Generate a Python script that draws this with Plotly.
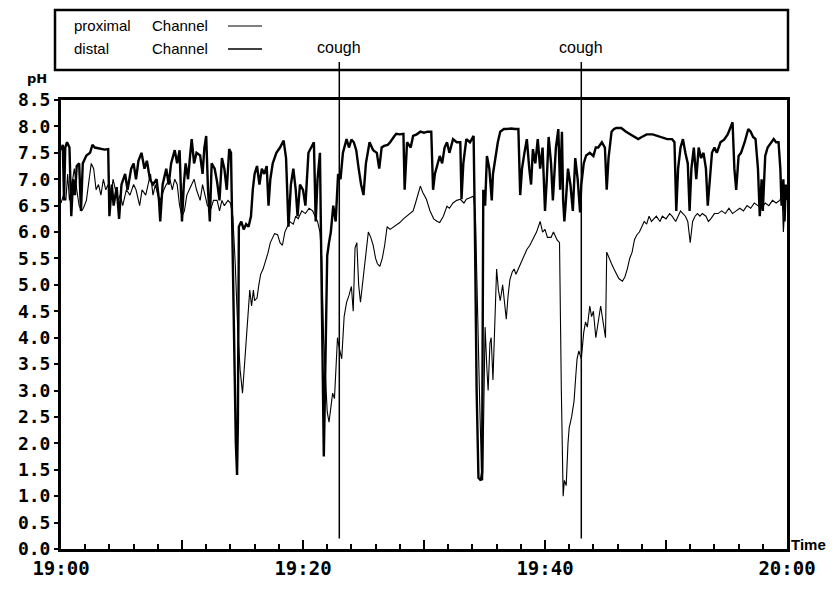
import pandas as pd
import plotly.graph_objects as go

# --- pH recording, 19:00-20:00: minutes after 19:00 and pH readings ---
distal_min = [
    0.0, 0.15, 0.25, 0.35, 0.5, 0.7, 0.85, 1.0, 1.15, 1.3, 1.5, 1.65, 1.8, 2.1, 2.4, 2.6, 2.8, 3.2, 3.6, 3.9,
    4.0, 4.2, 4.35, 4.6, 4.8, 5.0, 5.3, 5.5, 5.8, 6.0, 6.2, 6.4, 6.65, 6.9, 7.1, 7.35, 7.6, 7.9, 8.1, 8.2,
    8.4, 8.7, 8.9, 9.1, 9.4, 9.6, 9.8, 10.0, 10.15, 10.3, 10.5, 10.65, 10.8, 11.0, 11.2, 11.5, 11.7, 11.85, 12.0, 12.15,
    12.3, 12.45, 12.7, 12.9, 13.1, 13.3, 13.5, 13.7, 13.9, 14.05, 14.15, 14.3, 14.45, 14.55, 14.62, 14.7, 14.9, 15.1, 15.3, 15.5,
    15.7, 15.85, 16.0, 16.2, 16.4, 16.6, 16.8, 17.0, 17.15, 17.3, 17.5, 17.8, 18.1, 18.4, 18.6, 18.8, 19.0, 19.2, 19.4, 19.55,
    19.75, 20.0, 20.2, 20.45, 20.7, 20.9, 21.05, 21.2, 21.4, 21.5, 21.62, 21.72, 21.8, 21.9, 22.0, 22.15, 22.3, 22.5, 22.7, 22.9,
    23.1, 23.3, 23.6, 23.8, 24.0, 24.2, 24.4, 24.6, 24.8, 25.0, 25.2, 25.5, 25.8, 26.1, 26.3, 26.5, 26.7, 27.0, 27.2, 27.5,
    27.7, 28.0, 28.3, 28.4, 28.5, 28.6, 28.9, 29.1, 29.4, 29.7, 30.0, 30.3, 30.6, 30.75, 30.9, 31.1, 31.3, 31.5, 31.7, 31.9,
    32.1, 32.4, 32.7, 33.0, 33.1, 33.25, 33.5, 33.8, 34.1, 34.2, 34.35, 34.5, 34.7, 34.8, 34.9, 35.05, 35.2, 35.4, 35.6, 35.7,
    35.9, 36.1, 36.3, 36.6, 36.8, 37.2, 37.5, 37.8, 37.95, 38.1, 38.3, 38.5, 38.7, 38.85, 39.0, 39.2, 39.4, 39.6, 39.8, 40.0,
    40.15, 40.3, 40.5, 40.65, 40.9, 41.1, 41.25, 41.4, 41.5, 41.6, 41.7, 41.9, 42.1, 42.3, 42.5, 42.7, 42.9, 43.0, 43.2, 43.4,
    43.7, 44.0, 44.2, 44.4, 44.7, 44.95, 45.1, 45.25, 45.5, 45.7, 45.9, 46.3, 46.7, 47.1, 47.4, 47.7, 48.0, 48.4, 48.9, 49.3,
    49.7, 50.1, 50.5, 50.7, 50.85, 51.0, 51.2, 51.4, 51.6, 51.8, 51.95, 52.1, 52.3, 52.5, 52.7, 52.9, 53.1, 53.3, 53.45, 53.6,
    53.8, 54.0, 54.2, 54.5, 54.8, 55.1, 55.3, 55.5, 55.65, 55.8, 56.0, 56.2, 56.5, 56.8, 57.0, 57.2, 57.4, 57.6, 57.75, 57.9,
    58.0, 58.2, 58.4, 58.7, 58.9, 59.1, 59.3, 59.45, 59.55, 59.7, 59.8, 59.9, 60.0,
]
distal_ph = [
    7.55, 7.65, 6.6, 7.6, 7.7, 7.6, 6.3, 7.0, 6.7, 7.25, 7.3, 6.4, 7.3, 7.45, 7.5, 7.65, 7.6, 7.58, 7.56, 7.57,
    6.3, 6.9, 6.5, 6.85, 6.25, 6.9, 7.1, 6.8, 7.2, 7.3, 7.0, 7.35, 7.5, 7.2, 7.35, 7.0, 6.9, 7.0, 6.6, 6.2,
    6.9, 7.2, 6.9, 7.3, 7.55, 7.3, 7.55, 6.2, 6.9, 7.3, 7.0, 7.4, 7.76, 7.3, 7.5, 7.45, 7.1, 7.6, 7.82, 6.8,
    6.2, 7.3, 7.2, 6.95, 6.6, 7.4, 7.2, 6.8, 7.57, 7.5, 6.0, 4.0, 2.0, 1.4, 2.4, 6.1, 6.2, 6.05, 6.15, 6.1,
    6.3, 6.8, 7.1, 7.25, 6.9, 7.2, 7.1, 7.25, 6.5, 7.0, 7.3, 7.5, 7.6, 7.73, 7.4, 6.1, 6.9, 7.2, 6.8, 6.3,
    6.9, 6.8, 6.5, 7.5, 7.6, 7.7, 6.2, 7.0, 7.5, 5.9, 3.5, 1.75, 2.8, 4.6, 5.55, 5.8, 6.0, 6.5, 6.2, 7.1,
    7.0, 7.5, 7.76, 7.6, 7.75, 7.7, 7.55, 7.2, 6.9, 6.7, 7.3, 7.7, 7.55, 7.5, 7.2, 7.6, 7.63, 7.65, 7.7, 7.8,
    7.86, 7.85, 7.86, 6.8, 7.3, 7.7, 7.6, 7.82, 7.85, 7.9, 7.88, 7.9, 7.9, 6.8, 7.1, 7.3, 7.44, 7.3, 7.6, 7.7,
    7.5, 7.76, 7.7, 7.7, 6.62, 7.3, 7.76, 7.7, 7.82, 6.2, 3.0, 1.35, 1.3, 1.45, 6.8, 6.5, 7.44, 7.2, 6.6, 7.1,
    7.4, 7.7, 7.9, 7.95, 7.95, 7.96, 7.95, 7.95, 6.7, 7.2, 7.5, 7.76, 7.2, 6.9, 7.57, 7.3, 7.76, 7.2, 7.6, 6.4,
    7.0, 7.8, 7.3, 6.6, 7.6, 7.95, 6.8, 7.9, 6.6, 6.2, 6.5, 7.2, 6.9, 6.4, 7.4, 7.0, 6.37, 6.9, 7.3, 7.45,
    7.5, 7.44, 7.6, 7.6, 7.7, 7.6, 6.8, 7.4, 7.9, 7.95, 7.97, 7.97, 7.9, 7.85, 7.8, 7.76, 7.8, 7.85, 7.85, 7.82,
    7.8, 7.76, 7.76, 7.7, 6.4, 7.2, 7.6, 7.76, 7.5, 7.3, 6.4, 7.2, 7.6, 7.0, 7.6, 7.4, 7.5, 7.2, 6.5, 7.0,
    7.5, 7.6, 7.5, 7.7, 7.75, 7.85, 7.95, 8.08, 7.2, 6.8, 7.44, 7.5, 7.7, 7.95, 7.9, 7.8, 7.76, 7.2, 6.3, 7.0,
    6.4, 7.44, 7.6, 7.7, 7.76, 7.7, 7.7, 7.2, 6.5, 7.0, 6.2, 6.9, 6.6,
]

proximal_min = [
    0.0, 0.2, 0.4, 0.55, 0.7, 0.9, 1.1, 1.3, 1.5, 1.7, 1.85, 2.1, 2.3, 2.5, 2.7, 2.9, 3.1, 3.3, 3.5, 3.7,
    3.9, 4.1, 4.3, 4.5, 4.7, 4.9, 5.1, 5.4, 5.7, 6.0, 6.2, 6.5, 6.7, 7.0, 7.2, 7.4, 7.6, 7.8, 8.0, 8.2,
    8.5, 8.7, 9.0, 9.2, 9.4, 9.6, 9.8, 10.0, 10.2, 10.4, 10.6, 10.8, 11.0, 11.2, 11.5, 11.7, 11.9, 12.1, 12.4, 12.6,
    12.9, 13.1, 13.3, 13.5, 13.8, 14.0, 14.2, 14.4, 14.6, 14.8, 15.0, 15.15, 15.3, 15.45, 15.6, 15.75, 15.9, 16.0, 16.2, 16.35,
    16.5, 16.7, 16.9, 17.1, 17.3, 17.5, 17.65, 17.9, 18.1, 18.3, 18.5, 18.7, 18.9, 19.2, 19.4, 19.6, 19.9, 20.2, 20.5, 20.8,
    21.0, 21.2, 21.4, 21.55, 21.7, 21.85, 22.0, 22.15, 22.3, 22.45, 22.6, 22.75, 22.85, 23.0, 23.2, 23.4, 23.6, 23.8, 24.0, 24.15,
    24.3, 24.45, 24.6, 24.75, 24.9, 25.05, 25.2, 25.4, 25.6, 25.8, 26.0, 26.15, 26.35, 26.55, 26.75, 26.95, 27.2, 27.5, 27.8, 28.0,
    28.3, 28.6, 28.9, 29.1, 29.3, 29.5, 29.7, 29.9, 30.2, 30.5, 30.8, 31.1, 31.3, 31.6, 31.9, 32.1, 32.4, 32.7, 33.0, 33.3,
    33.5, 33.8, 34.1, 34.25, 34.4, 34.6, 34.75, 34.85, 34.95, 35.05, 35.2, 35.3, 35.45, 35.55, 35.7, 35.85, 36.0, 36.15, 36.3, 36.5,
    36.65, 36.8, 36.95, 37.1, 37.3, 37.45, 37.6, 37.8, 38.0, 38.25, 38.5, 38.75, 39.0, 39.3, 39.6, 39.8, 40.0, 40.2, 40.5, 40.7,
    41.0, 41.2, 41.35, 41.5, 41.6, 41.75, 41.9, 42.0, 42.2, 42.4, 42.55, 42.65, 42.8, 43.0, 43.2, 43.35, 43.5, 43.7, 43.85, 44.0,
    44.2, 44.4, 44.6, 44.8, 45.0, 45.1, 45.3, 45.5, 45.7, 45.9, 46.1, 46.4, 46.6, 46.8, 47.0, 47.2, 47.4, 47.6, 47.8, 48.0,
    48.2, 48.4, 48.6, 48.8, 49.0, 49.2, 49.5, 49.7, 50.0, 50.3, 50.5, 50.8, 51.0, 51.2, 51.4, 51.6, 51.8, 52.0, 52.2, 52.4,
    52.6, 52.8, 53.0, 53.3, 53.5, 53.7, 54.0, 54.3, 54.6, 54.9, 55.2, 55.5, 55.8, 56.1, 56.4, 56.7, 57.0, 57.3, 57.6, 57.9,
    58.2, 58.5, 58.8, 59.1, 59.4, 59.6, 59.7, 59.85, 60.0,
]
proximal_ph = [
    6.55, 6.7, 6.6, 7.1, 6.6, 6.9, 7.2, 6.8, 6.5, 6.4, 6.45, 6.6, 7.0, 7.3, 7.2, 6.8, 6.9, 6.7, 7.0, 6.8,
    6.9, 6.6, 7.0, 6.8, 6.6, 6.7, 6.5, 6.8, 6.7, 6.9, 6.8, 6.5, 6.8, 6.7, 6.9, 7.1, 6.7, 6.9, 6.7, 6.6,
    6.8, 6.9, 7.0, 6.8, 7.0, 6.9, 6.5, 6.3, 6.4, 6.7, 6.8, 6.9, 7.0, 6.8, 6.6, 6.9, 6.7, 6.5, 6.45, 6.6,
    6.6, 6.4, 6.6, 6.5, 6.6, 6.55, 6.3, 5.4, 4.2, 3.4, 2.95, 3.4, 3.9, 4.3, 4.9, 4.6, 4.9, 4.7, 4.75, 5.0,
    5.2, 5.3, 5.45, 5.6, 5.8, 5.9, 5.97, 5.95, 5.8, 5.75, 6.0, 6.1, 6.2, 6.15, 6.3, 6.25, 6.4, 6.35, 6.45, 6.4,
    6.3, 6.2, 6.0, 5.5, 4.0, 3.2, 2.6, 2.4, 2.7, 2.95, 2.85, 3.6, 4.0, 3.8, 3.6, 4.4, 4.67, 4.8, 4.97, 4.5,
    5.7, 5.8, 5.0, 4.67, 5.0, 5.3, 5.6, 6.0, 5.9, 5.75, 5.5, 5.4, 5.35, 5.5, 5.75, 6.1, 6.05, 6.1, 6.15, 6.18,
    6.25, 6.3, 6.35, 6.4, 6.55, 6.7, 6.87, 6.75, 6.62, 6.4, 6.25, 6.2, 6.18, 6.3, 6.49, 6.45, 6.55, 6.6, 6.62, 6.55,
    6.62, 6.65, 6.68, 6.3, 4.5, 2.8, 1.5, 1.3, 2.8, 4.2, 3.4, 3.0, 3.9, 4.0, 3.2, 4.2, 5.3, 4.9, 4.7, 5.0,
    4.7, 4.35, 4.8, 5.1, 5.25, 5.3, 5.2, 5.3, 5.4, 5.55, 5.67, 5.75, 5.86, 6.0, 6.2, 6.0, 6.05, 5.9, 5.9, 6.0,
    5.85, 5.8, 3.0, 1.0, 1.3, 1.2, 2.0, 2.3, 2.5, 2.8, 3.3, 3.6, 3.75, 3.6, 4.1, 4.3, 4.2, 4.6, 4.4, 4.5,
    4.0, 4.3, 4.6, 4.3, 4.0, 5.62, 5.5, 5.4, 5.3, 5.2, 5.12, 5.07, 5.15, 5.3, 5.5, 5.62, 5.86, 5.95, 6.0, 6.1,
    6.2, 6.15, 6.3, 6.2, 6.25, 6.3, 6.2, 6.3, 6.25, 6.35, 6.3, 6.2, 6.3, 6.4, 6.35, 6.3, 6.2, 5.8, 6.2, 6.3,
    6.35, 6.3, 6.35, 6.3, 6.2, 6.25, 6.35, 6.35, 6.4, 6.35, 6.45, 6.35, 6.4, 6.45, 6.4, 6.5, 6.45, 6.55, 6.5, 6.45,
    6.55, 6.5, 6.6, 6.55, 6.6, 6.7, 6.0, 6.6, 6.75,
]

cough_times = ["19:23", "19:43"]
cough_label = "cough"
x_tick_labels = ["19:00", "", "19:20", "", "19:40", "", "20:00"]

START = pd.Timestamp("2000-01-01 19:00")
END = pd.Timestamp("2000-01-01 20:00")


def clock(minutes):
    return [START + pd.Timedelta(minutes=m) for m in minutes]


# page geometry (pixels) for the frame and the header box
W, H = 836, 591
L, R, T, B = 61, 787, 100, 549


def px_x(x):
    return (x - L) / (R - L)


def px_y(y):
    return (B - y) / (B - T)


fig = go.Figure()
fig.add_trace(go.Scatter(
    x=clock(proximal_min), y=proximal_ph, mode="lines", name="proximal Channel",
    line=dict(color="black", width=1.1), showlegend=False,
))
fig.add_trace(go.Scatter(
    x=clock(distal_min), y=distal_ph, mode="lines", name="distal Channel",
    line=dict(color="black", width=2.4), showlegend=False,
))

tick_font = dict(family="DejaVu Sans Mono", size=18, color="black", weight="bold")

fig.update_xaxes(
    range=[START, END],
    tickvals=[START + pd.Timedelta(minutes=10 * i) for i in range(7)],
    ticktext=x_tick_labels,
    ticks="inside", ticklen=9, tickwidth=1.5, tickcolor="black",
    minor=dict(dtick=120000, ticks="inside", ticklen=5, tickwidth=1.5, tickcolor="black"),
    showline=True, linewidth=3, linecolor="black", mirror=True,
    showgrid=False, zeroline=False, tickfont=dict(tick_font, size=19),
)
fig.update_yaxes(
    range=[0, 8.5], dtick=0.5, tick0=0, tickformat=".1f",
    ticks="outside", ticklen=4, tickwidth=1.5, tickcolor="black",
    showline=True, linewidth=3, linecolor="black", mirror=True,
    showgrid=False, zeroline=False, tickfont=tick_font,
)

shapes = []
annotations = []

# header box holding the channel key
shapes.append(dict(type="rect", xref="paper", yref="paper",
                   x0=px_x(55), x1=px_x(788), y0=px_y(70), y1=px_y(10),
                   line=dict(color="black", width=2.5)))

key_font = dict(family="Liberation Sans", size=15, color="black")
for name, yy, w in [("proximal", 25, 1.1), ("distal", 48, 1.6)]:
    annotations.append(dict(text=name, xref="paper", yref="paper", x=px_x(72), y=px_y(yy),
                            xanchor="left", yanchor="middle", showarrow=False, font=key_font))
    annotations.append(dict(text="Channel", xref="paper", yref="paper", x=px_x(150), y=px_y(yy),
                            xanchor="left", yanchor="middle", showarrow=False, font=key_font))
    shapes.append(dict(type="line", xref="paper", yref="paper",
                       x0=px_x(228), x1=px_x(262), y0=px_y(yy + 1), y1=px_y(yy + 1),
                       line=dict(color="black", width=w)))

# cough event markers
for ct in cough_times:
    t = pd.Timestamp(f"2000-01-01 {ct}")
    shapes.append(dict(type="line", xref="x", yref="paper", x0=t, x1=t,
                       y0=0.2 / 8.5, y1=px_y(62), line=dict(color="black", width=1.5)))
    annotations.append(dict(text=cough_label, xref="x", yref="paper", x=t, y=px_y(47),
                            xanchor="center", yanchor="middle", showarrow=False,
                            font=dict(family="Liberation Sans", size=16, color="black")))

# axis titles
annotations.append(dict(text="pH", xref="paper", yref="paper", x=px_x(37), y=px_y(78),
                        xanchor="center", yanchor="middle", showarrow=False,
                        font=dict(family="DejaVu Sans", size=13, color="black", weight="bold")))
annotations.append(dict(text="Time", xref="paper", yref="paper", x=px_x(789), y=px_y(544),
                        xanchor="left", yanchor="middle", showarrow=False,
                        font=dict(family="Liberation Sans", size=15, color="black", weight="bold")))

fig.update_layout(
    width=W, height=H,
    margin=dict(l=L, r=W - R, t=T, b=H - B),
    paper_bgcolor="white", plot_bgcolor="white",
    shapes=shapes, annotations=annotations,
    showlegend=False,
)

fig.write_html("out.html")
